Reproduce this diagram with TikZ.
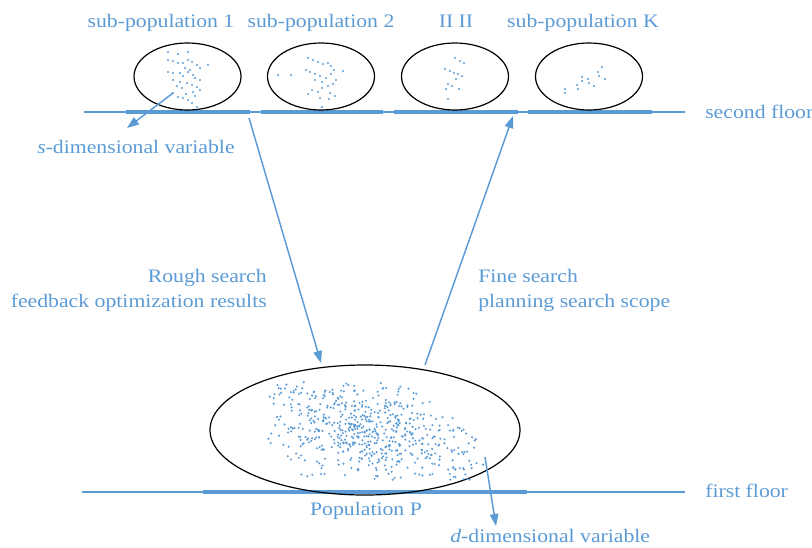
\documentclass[tikz,border=0pt]{standalone}
\usepackage{fontspec}
\setmainfont{Liberation Serif}[FakeStretch=1.14]
\usetikzlibrary{arrows.meta,shapes.geometric}
\definecolor{cblue}{HTML}{5B9BD5}
\begin{document}
\begin{tikzpicture}[x=0.75pt,y=-0.75pt,
  lbl/.style={text=cblue, font=\fontsize{14.3}{16}\selectfont, inner sep=0pt},
  subov/.style={ellipse, draw=black, line width=0.9pt, minimum width=80.25pt, minimum height=50.25pt, inner sep=0pt},
  popov/.style={ellipse, draw=black, line width=0.9pt, minimum width=232.5pt, minimum height=97.5pt, inner sep=0pt},
  floorthin/.style={draw=cblue, line width=1.1pt},
  floorthick/.style={draw=cblue, line width=2.3pt},
  arr/.style={draw=cblue, line width=1.1pt, -{Triangle[length=9pt,width=6.5pt]}},
]
\useasboundingbox (0,0) rectangle (812,547);

% floors
\coordinate (t0) at (84,112); \coordinate (t1) at (685,112);
\draw[floorthin] (t0) -- (t1);
\coordinate (a1) at (126,112); \coordinate (a2) at (250,112);
\coordinate (b1) at (261,112); \coordinate (b2) at (383,112);
\coordinate (c1) at (394,112); \coordinate (c2) at (518,112);
\coordinate (d1) at (528,112); \coordinate (d2) at (652,112);
\draw[floorthick] (a1) -- (a2);
\draw[floorthick] (b1) -- (b2);
\draw[floorthick] (c1) -- (c2);
\draw[floorthick] (d1) -- (d2);

\coordinate (f0) at (82,492); \coordinate (f1) at (685,492);
\coordinate (g1) at (203,492); \coordinate (g2) at (527,492);
\draw[floorthin] (f0) -- (f1);
\draw[floorthick] (g1) -- (g2);

% ellipses
\node[subov] (e1) at (187.5,76.5) {};
\node[subov] (e2) at (321,76.5) {};
\node[subov] (e3) at (455,76.5) {};
\node[subov] (e4) at (589,76.5) {};
\node[popov] (pop) at (365,430) {};

% dots in sub-populations
\foreach \p in {(168,52),(178,54),(188,52),(168,60),(173,61),(178,63),(183,63),(188,60),(192,62),(197,65),(200,68),(208,65),(168,72),(173,73),(180,73),(188,72),(183,76),(193,75),(200,80),(173,80),(180,82),(187,83),(192,85),(197,87),(200,90),(182,88),(193,92),(173,93),(178,97),(183,98),(188,100),(192,103),(197,107),(185,68),(190,70),(195,78),(177,86),(186,94),(195,96)}
  \fill[cblue] \p circle (1.15);
\foreach \p in {(278,75),(291,75),(308,58),(313,60),(318,62),(323,64),(328,63),(331,66),(334,70),(343,71),(306,70),(310,72),(315,74),(320,76),(326,78),(331,74),(336,80),(333,84),(328,86),(322,82),(315,80),(312,90),(318,92),(322,88),(330,93),(308,94),(320,98),(329,99),(335,96),(322,107)}
  \fill[cblue] \p circle (1.15);
\foreach \p in {(455,58),(460,61),(464,63),(445,69),(450,71),(454,73),(458,74),(462,76),(456,79),(448,84),(452,86),(446,89),(459,89),(448,99)}
  \fill[cblue] \p circle (1.15);
\foreach \p in {(565,89),(565,93),(577,85),(578,89),(582,77),(582,81),(588,79),(589,83),(594,86),(598,72),(602,67),(599,76),(605,79)}
  \fill[cblue] \p circle (1.15);

% dots in population P: dense core
\pgfmathsetseed{11}
\foreach \i in {1,...,420}{
  \pgfmathsetmacro\v{0.55*rand+0.45*rand}
  \pgfmathsetmacro\u{0.55*rand+0.45*rand}
  \pgfmathsetmacro\L{266+28*\v*\v+12*\v}
  \pgfmathsetmacro\R{470+50*\v-22*\v*\v}
  \pgfmathsetmacro\xx{(\L+\R)/2+(\R-\L)/2*\u}
  \pgfmathsetmacro\yy{431+49*\v}
  \fill[cblue] (\xx,\yy) circle (1.15);
}
% sparse fringe
\foreach \i in {1,...,200}{
  \pgfmathsetmacro\v{rand}
  \pgfmathsetmacro\u{rand}
  \pgfmathsetmacro\L{264+30*\v*\v+14*\v}
  \pgfmathsetmacro\R{470+50*\v-22*\v*\v}
  \pgfmathsetmacro\xx{(\L+\R)/2+(\R-\L)/2*\u}
  \pgfmathsetmacro\yy{431+49*\v}
  \fill[cblue] (\xx,\yy) circle (1.15);
}

% labels
\node[lbl, anchor=base] (l1) at (161,27) {sub-population 1};
\node[lbl, anchor=base] (l2) at (321,27) {sub-population 2};
\node[lbl, anchor=base] (l3) at (456,27) {II II};
\node[lbl, anchor=base] (l4) at (583,27) {sub-population K};
\node[lbl, anchor=base west] (sf) at (705,118) {second floor};
\node[lbl, anchor=base west] (ff) at (705,497) {first floor};
\node[lbl, anchor=base west] (sv) at (37,153) {\textit{s}-dimensional variable};
\node[lbl, anchor=base west] (dv) at (450,542) {\textit{d}-dimensional variable};
\node[lbl, anchor=base] (pp) at (366,515) {Population P};
\node[lbl, anchor=base east] (r1) at (267,282) {Rough search};
\node[lbl, anchor=base east] (r2) at (267,307) {feedback optimization results};
\node[lbl, anchor=base west] (s1) at (478,282) {Fine search};
\node[lbl, anchor=base west] (s2) at (478,307) {planning search scope};

% arrows
\coordinate (sa0) at (173,93); \coordinate (sa1) at (127,128);
\draw[arr] (sa0) -- (sa1);
\coordinate (ra0) at (249,118); \coordinate (ra1) at (321,363);
\draw[arr] (ra0) -- (ra1);
\coordinate (fa0) at (425,365); \coordinate (fa1) at (513,116);
\draw[arr] (fa0) -- (fa1);
\coordinate (da0) at (485,457); \coordinate (da1) at (496,526);
\draw[arr] (da0) -- (da1);
\end{tikzpicture}
\end{document}
